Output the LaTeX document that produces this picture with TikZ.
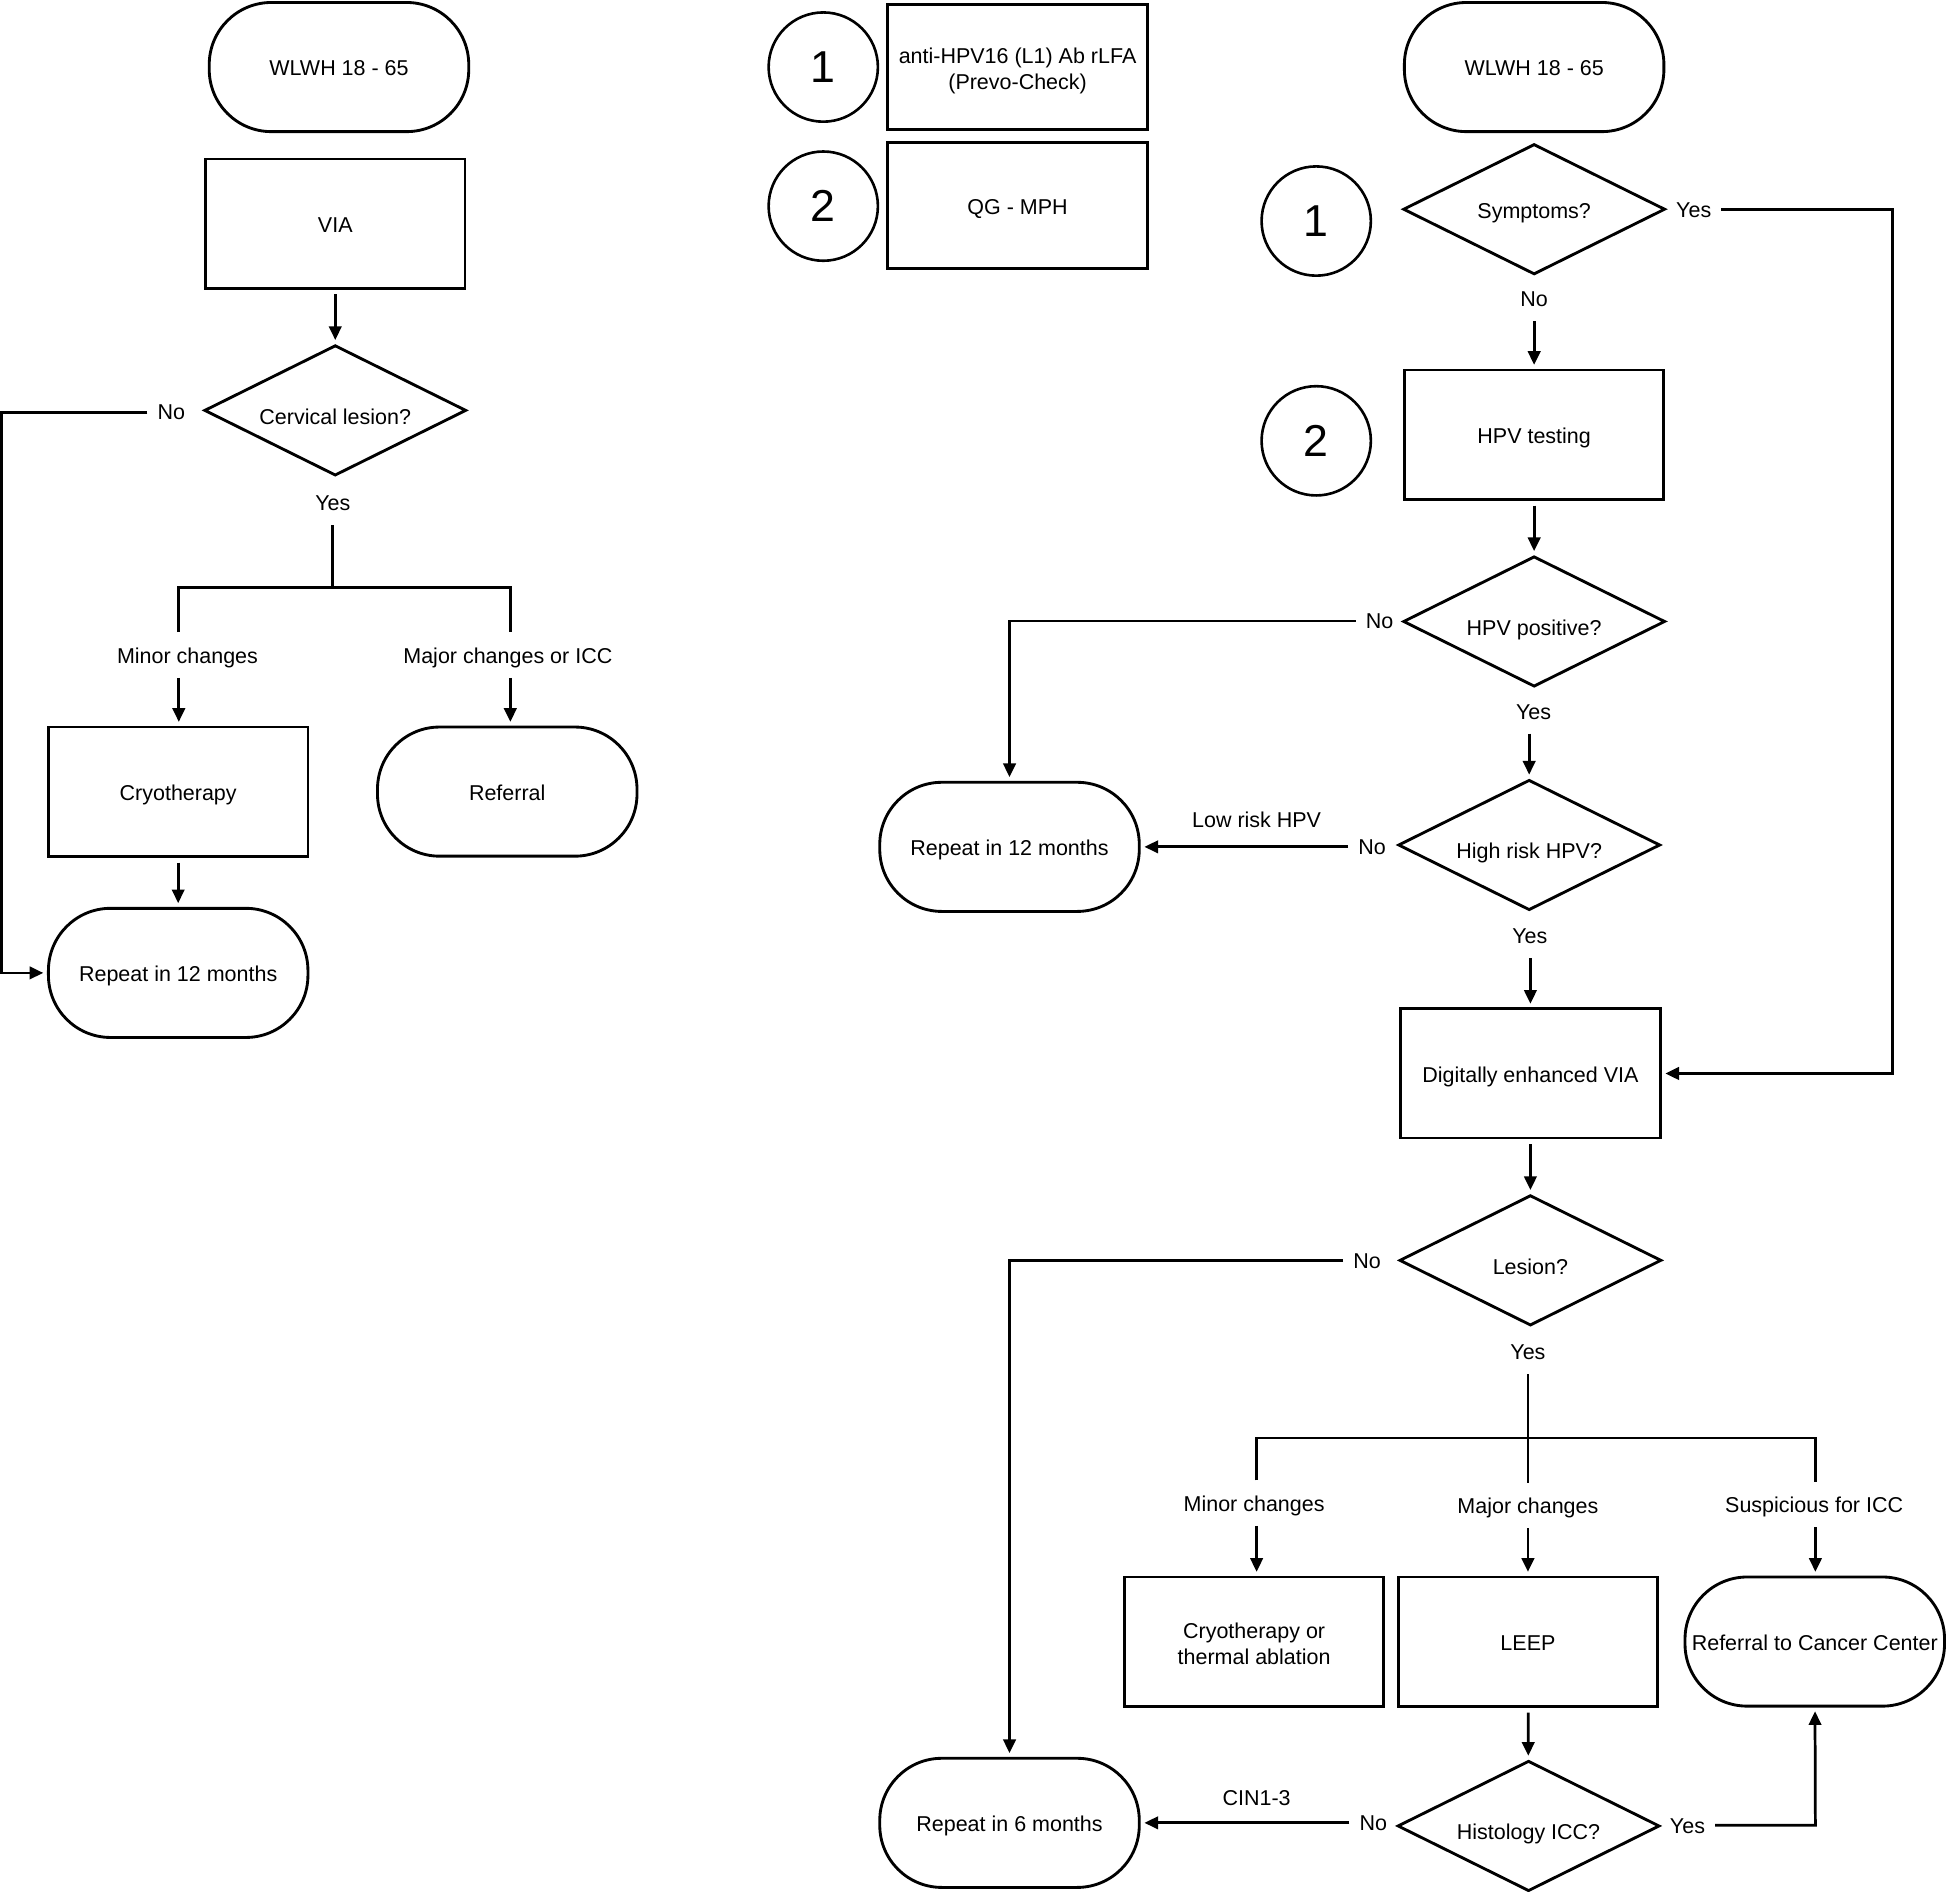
\documentclass[tikz,border=0pt]{standalone}
\usepackage{fontspec}
\setmainfont{Liberation Sans}
\usetikzlibrary{shapes.geometric,arrows.meta}
\begin{document}
\begin{tikzpicture}[x=1pt,y=-1pt,
  font=\fontsize{17.3}{21}\selectfont,
  base/.style={draw, line width=2.3pt, inner sep=3pt, align=center},
  term/.style={base, rectangle, rounded corners=50pt, minimum width=209pt, minimum height=104pt, text height=17.9pt, text depth=3.5pt},
  boxnode/.style={base, rectangle, minimum width=209pt, minimum height=104pt, text height=17.9pt, text depth=3.5pt},
  boxtwo/.style={base, rectangle, minimum width=209pt, minimum height=104pt},
  dec/.style={base, diamond, aspect=2, minimum width=211pt, minimum height=105pt, text height=25.9pt, text depth=3.5pt},
  circ/.style={draw, circle, line width=2.1pt, minimum size=88pt, inner sep=0pt, font=\fontsize{36}{40}\selectfont},
  lab/.style={inner sep=4pt, text height=15.9pt, text depth=3.5pt},
  con/.style={line width=2.2pt},
  arr/.style={line width=2.2pt, -{Triangle[length=11pt,width=10pt]}, shorten <=4pt, shorten >=3pt}
]
\useasboundingbox (0,0) rectangle (1568,1523.7);

% ---------- left flow ----------
\node[term] (L0) at (273,54) {WLWH 18 - 65};
\node[boxnode] (L1) at (270,180) {VIA};
\node[dec] (L2) at (270,330.5) {Cervical lesion?};
\node[boxnode] (L3) at (143.5,637.5) {Cryotherapy};
\node[term] (L4) at (408.5,637.5) {Referral};
\node[term] (L5) at (143.5,783.5) {Repeat in 12 months};
\node[lab] (Lno) at (138,332) {No};
\node[lab] (Lyes) at (268,405) {Yes};
\node[lab] (Lminor) at (151,528) {Minor changes};
\node[lab] (Lmajor) at (409,528) {Major changes or ICC};
\coordinate (Lleft) at (1.5,332);
\coordinate (Lj) at (268,473);
\coordinate (Lja) at (144,473);
\coordinate (Ljb) at (411,473);

\draw[arr] (L1) -- (L2);
\draw[arr] (Lno) -- (Lleft) |- (L5);
\draw[con, shorten <=4pt] (Lyes) -- (Lj);
\draw[con, shorten <=5pt, shorten >=5pt] (Lja |- Lminor.north) -- (Lja) -- (Ljb) -- (Ljb |- Lmajor.north);
\draw[arr] (Lja |- Lminor.south) -- (Lja |- L3.north);
\draw[arr] (Ljb |- Lmajor.south) -- (Ljb |- L4.north);
\draw[arr] (L3) -- (L5);

% ---------- legend ----------
\node[circ] (K1) at (663,54) {1};
\node[boxtwo, minimum height=101pt] (B1) at (819.5,54) {\rule{0pt}{19pt}anti-HPV16 (L1) Ab rLFA\\(Prevo-Check)};
\node[circ] (K2) at (663,166) {2};
\node[boxnode, minimum height=101pt] (B2) at (819.5,165.5) {QG - MPH};

% ---------- right flow ----------
\node[term] (R0) at (1235.5,54) {WLWH 18 - 65};
\node[dec, text height=17.9pt] (R1) at (1235.5,168.5) {Symptoms?};
\node[circ] (C1) at (1060,178) {1};
\node[circ] (C2) at (1060,355) {2};
\node[boxnode] (R2) at (1235.5,350) {HPV testing};
\node[dec] (R3) at (1235.5,500.5) {HPV positive?};
\node[dec] (R4) at (1231.5,680.5) {High risk HPV?};
\node[term] (R12) at (813,682) {Repeat in 12 months};
\node[boxnode] (R5) at (1232.5,864.5) {Digitally enhanced VIA};
\node[dec] (R6) at (1232.5,1015) {Lesion?};
\node[boxtwo] (R7) at (1010,1322) {\rule{0pt}{16pt}Cryotherapy or\\thermal ablation};
\node[boxnode] (R8) at (1230.5,1322) {LEEP};
\node[term] (R9) at (1461.5,1322) {Referral to Cancer Center};
\node[dec] (R10) at (1231,1470.5) {Histology ICC?};
\node[term] (R6m) at (813,1468) {Repeat in 6 months};

\node[lab] (Ryes1) at (1364,169) {Yes};
\node[lab] (Rno1) at (1235.5,241) {No};
\node[lab] (Rno2) at (1111,500) {No};
\node[lab] (Ryes2) at (1235,573) {Yes};
\node[lab] (Rno3) at (1105,682) {No};
\node[lab] (Rlow) at (1012,660) {Low risk HPV};
\node[lab] (Ryes3) at (1232,754) {Yes};
\node[lab] (Rno4) at (1101,1015) {No};
\node[lab] (Ryes4) at (1230.5,1089) {Yes};
\node[lab] (Rminor) at (1010,1211) {Minor changes};
\node[lab] (Rmajor) at (1230.5,1213) {Major changes};
\node[lab] (Rsusp) at (1461,1212) {Suspicious for ICC};
\node[lab] (Rno5) at (1106,1468) {No};
\node[lab] (Rcin) at (1012,1448) {CIN1-3};
\node[lab] (Ryes5) at (1359,1470) {Yes};

\coordinate (Rc1) at (1524,169);
\coordinate (Rc2) at (813,500);
\coordinate (Rc3) at (813,1015);
\coordinate (Rja) at (1012,1158);
\coordinate (Rjb) at (1462,1158);
\coordinate (Rc4) at (1462,1470);

\draw[arr] (Ryes1) -- (Rc1) |- (R5);
\draw[arr] (Rno1) -- (R2);
\draw[arr] (R2) -- (R3);
\draw[arr] (Rno2) -- (Rc2) -- (R12);
\draw[arr] (Ryes2.south -| R4) -- (R4);
\draw[arr] (Rno3) -- (R12);
\draw[arr] (Ryes3.south -| R5) -- (R5);
\draw[arr] (R5) -- (R6);
\draw[arr] (Rno4) -- (Rc3) -- (R6m);
\draw[con, shorten <=4pt, shorten >=5pt] (Ryes4) -- (Rmajor);
\draw[con, shorten <=5pt, shorten >=5pt] (Rja |- Rminor.north) -- (Rja) -- (Rjb) -- (Rjb |- Rsusp.north);
\draw[arr] (Rja |- Rminor.south) -- (Rja |- R7.north);
\draw[arr] (Rmajor.south -| R8) -- (R8);
\draw[arr] (Rjb |- Rsusp.south) -- (Rjb |- R9.north);
\draw[arr] (R8) -- (R10);
\draw[arr] (Rno5) -- (R6m);
\draw[arr] (Ryes5) -- (Rc4) -- (R9);
\end{tikzpicture}
\end{document}
